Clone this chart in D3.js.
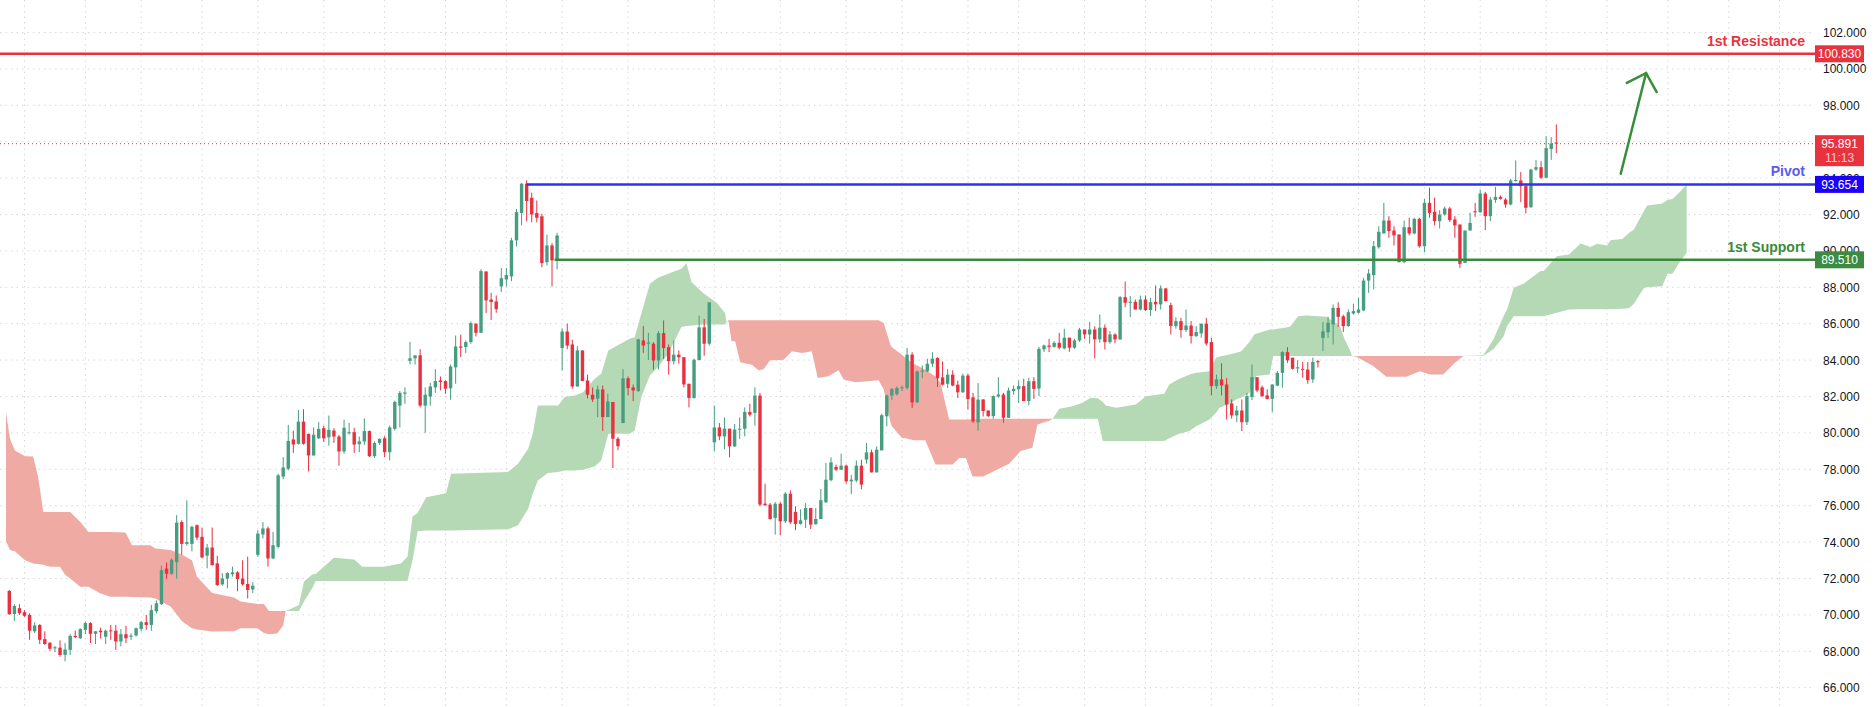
<!DOCTYPE html>
<html><head><meta charset="utf-8">
<script src="https://cdn.jsdelivr.net/npm/d3@7/dist/d3.min.js"></script>
<style>body{margin:0;background:#fff}svg{display:block}</style>
</head><body><svg id="c" width="1874" height="707"></svg>
<script>
// [open, high, low, close]
const ohlc = [
[71.32,71.37,70.0,70.04],[70.05,70.59,69.67,70.49],[70.37,70.59,70.0,70.1],[70.15,70.26,69.9,69.95],[70.0,70.09,68.63,69.13],
[69.1,69.6,69.0,69.42],[69.45,69.49,68.4,68.63],[68.67,69.1,68.36,68.4],[68.47,68.5,68.03,68.14],[68.18,68.3,67.95,68.22],
[68.2,68.6,67.7,67.8],[67.8,68.45,67.45,68.1],[68.08,68.94,67.8,68.85],[68.85,69.14,68.72,68.78],[68.72,69.27,68.68,69.22],
[69.18,69.64,68.94,69.55],[69.55,69.6,68.45,68.96],[68.96,69.1,68.4,69.1],[69.13,69.3,68.7,69.05],[68.8,69.19,68.4,69.13],
[69.15,69.45,68.63,69.1],[69.13,69.45,68.08,68.54],[68.54,69.22,68.27,68.94],[68.94,69.4,68.45,68.72],[68.8,68.99,68.63,68.86],
[68.87,69.31,68.81,69.27],[69.23,69.67,69.09,69.6],[69.6,70.0,69.18,69.45],[69.45,70.55,69.13,70.26],[70.2,70.8,70.09,70.64],
[70.59,72.7,70.55,72.46],[72.55,72.88,71.97,72.26],[72.26,73.1,72.2,73.03],[72.9,75.48,72.0,75.07],[75.1,75.2,73.3,73.9],
[73.9,76.3,73.8,74.0],[73.9,74.9,73.5,74.84],[74.93,74.97,74.1,74.25],[74.29,74.8,73.1,73.16],[73.25,73.9,72.56,73.7],
[73.7,74.8,72.7,72.74],[72.83,73.25,71.6,71.64],[71.68,72.3,71.6,72.0],[72.0,72.35,71.46,72.3],[72.23,72.65,72.1,72.34],
[72.34,72.4,71.3,71.97],[72.0,73.0,71.6,71.68],[71.7,73.2,70.9,71.37],[71.4,71.8,71.2,71.6],[73.3,74.65,73.2,74.47],
[74.42,75.1,74.2,74.75],[74.75,74.85,72.65,73.1],[73.1,74.56,73.06,73.83],[73.74,77.76,73.65,77.67],[77.6,78.67,77.45,78.1],
[78.03,80.44,77.94,79.56],[79.64,80.13,78.9,79.36],[79.4,81.26,79.36,80.62],[80.62,81.3,79.35,79.4],[79.95,79.95,77.88,78.76],
[78.76,80.3,78.76,79.9],[79.7,80.59,79.67,80.22],[80.26,80.4,79.5,79.7],[79.76,80.95,79.3,80.17],[80.13,80.26,79.45,79.8],
[79.8,79.89,78.2,78.98],[78.98,80.73,78.85,80.28],[79.98,80.55,79.9,80.04],[80.04,80.28,78.9,79.36],[79.38,79.8,78.94,79.53],
[79.53,80.8,79.34,80.1],[80.1,80.13,78.67,78.72],[78.72,79.53,78.62,79.45],[79.45,79.7,79.34,79.67],[79.7,79.82,78.67,78.94],
[78.94,80.4,78.49,80.3],[80.22,81.77,80.13,81.7],[81.5,82.3,80.3,82.2],[82.15,82.5,81.6,82.22],[83.96,85.0,83.76,84.1],
[84.1,84.26,83.76,84.26],[84.26,84.6,81.4,81.5],[81.5,82.5,80.0,82.1],[82.0,82.75,81.5,82.55],[82.5,83.5,82.2,82.85],
[82.88,83.1,82.34,82.8],[82.85,82.88,82.15,82.43],[82.45,83.75,81.82,83.65],[83.6,85.35,82.7,84.75],[84.75,85.4,84.17,84.68],
[84.72,85.08,84.38,84.99],[84.99,86.12,84.9,86.03],[86.0,86.03,85.3,85.5],[85.5,89.0,85.5,88.89],[88.87,88.87,86.58,87.28],
[87.33,87.7,86.2,87.19],[87.22,87.55,86.6,86.8],[88.05,89.06,87.74,88.5],[88.43,89.06,88.05,88.67],[88.6,90.72,88.34,90.58],
[90.58,92.3,90.25,92.13],[92.08,93.73,91.4,93.69],[93.69,93.87,91.62,92.74],[92.92,93.2,91.57,92.0],[92.08,92.77,91.57,91.82],
[91.9,92.04,89.1,89.33],[89.38,90.9,89.2,90.3],[90.3,90.43,88.05,89.48],[89.48,91.0,88.98,90.85],[84.66,85.75,83.43,85.57],
[85.57,86.0,84.6,84.8],[84.86,85.12,82.43,82.55],[82.55,84.77,82.55,84.53],[84.53,84.53,82.85,82.85],[82.88,83.2,81.9,82.1],
[82.1,82.5,81.7,81.84],[81.88,82.6,80.87,82.39],[82.39,82.6,80.1,80.87],[80.87,82.15,80.87,81.73],[81.7,81.7,78.07,79.68],
[79.68,79.77,79.05,79.27],[80.54,83.5,80.54,83.0],[83.0,83.1,82.06,82.46],[82.5,82.66,81.75,82.33],[82.3,85.17,82.24,85.14],
[85.08,85.87,84.4,84.8],[84.9,85.5,84.0,84.97],[84.9,84.99,83.47,83.98],[83.98,85.6,83.49,85.48],[85.48,86.18,84.07,84.66],
[84.71,84.86,83.2,83.94],[83.94,85.08,83.76,84.3],[84.3,84.53,83.8,84.16],[84.16,84.16,82.5,82.66],[82.7,82.7,81.4,81.92],
[81.92,84.08,81.88,84.02],[84.0,86.44,84.0,85.8],[85.8,86.26,84.24,84.9],[84.9,87.17,84.8,87.17],[79.48,81.5,79.0,80.3],
[80.3,80.54,79.6,79.81],[79.81,80.85,79.1,80.23],[80.23,80.23,78.66,79.26],[79.26,80.49,79.22,80.18],[80.18,80.85,79.67,80.23],
[80.23,81.4,79.81,81.15],[81.15,81.6,80.9,81.0],[81.1,82.5,80.4,82.05],[82.05,82.2,75.97,76.06],[76.11,77.21,76.02,76.02],
[76.06,76.15,75.23,75.27],[75.33,76.2,74.41,76.11],[76.11,76.2,74.37,75.14],[75.14,76.75,75.05,76.66],[76.66,76.84,75.0,75.09],
[75.66,75.97,74.65,75.0],[75.0,75.8,74.96,75.2],[75.23,76.14,74.77,75.87],[75.87,75.87,74.72,74.96],[74.98,75.87,74.96,75.27],
[75.27,76.92,75.27,76.3],[76.19,78.35,76.15,77.43],[77.4,78.66,77.34,78.38],[78.13,78.26,77.9,77.98],[77.98,78.86,77.98,78.2],
[78.2,78.26,77.21,77.34],[77.34,77.7,76.64,77.43],[77.38,78.49,77.28,78.2],[78.2,78.53,76.9,77.16],[78.53,79.44,78.31,78.93],
[78.93,79.08,77.83,77.83],[77.83,79.26,77.83,79.08],[79.04,81.06,79.04,80.97],[80.91,82.1,80.36,82.05],[82.05,82.47,81.8,82.41],
[82.13,82.56,82.05,82.47],[82.47,82.6,82.3,82.5],[82.47,84.67,82.38,84.3],[84.3,84.43,81.37,81.68],[81.68,83.42,81.64,83.38],
[83.38,83.71,83.0,83.42],[83.38,84.08,83.33,83.8],[83.8,84.43,83.62,84.08],[84.12,84.15,82.52,83.0],[83.05,83.93,82.6,82.65],
[82.7,83.5,82.47,83.2],[83.2,83.44,82.56,82.6],[82.65,82.87,81.92,82.23],[82.23,83.26,82.2,83.15],[83.15,83.26,81.28,81.86],
[81.95,82.2,80.54,80.64],[80.58,82.74,80.12,81.83],[81.84,81.84,80.9,81.2],[81.23,81.23,80.87,80.92],[80.92,82.06,80.78,82.02],
[82.0,83.06,81.93,82.11],[82.11,82.2,80.56,80.83],[80.83,82.48,80.83,82.33],[82.3,82.6,82.1,82.42],[82.4,82.88,81.65,82.57],
[82.57,82.97,81.75,81.75],[81.75,83.03,81.51,82.84],[82.84,83.06,81.87,82.42],[82.44,84.73,82.02,84.62],[84.59,84.86,84.44,84.8],
[84.8,85.17,84.44,84.73],[84.73,85.04,84.68,84.95],[84.95,85.5,84.59,84.68],[84.64,85.72,84.59,85.23],[85.23,85.23,84.46,84.68],
[84.68,85.17,84.62,85.08],[85.08,85.77,85.0,85.68],[85.68,85.68,85.17,85.41],[85.41,86.09,84.91,85.68],[85.68,85.86,84.09,85.14],
[85.14,86.51,84.95,85.78],[85.78,85.96,84.58,84.99],[84.99,85.6,84.9,85.41],[85.41,85.47,84.92,85.14],[85.14,87.52,85.1,87.46],
[87.46,88.32,86.91,87.15],[87.16,87.52,86.36,87.2],[87.2,87.33,86.78,86.78],[86.78,87.55,86.73,87.33],[87.33,87.55,86.69,86.75],
[86.75,87.42,86.42,87.18],[87.2,88.1,86.69,87.06],[87.06,88.1,86.78,87.94],[87.94,87.94,87.24,87.24],[87.02,87.15,85.41,85.87],
[85.87,86.36,85.72,86.14],[86.14,86.32,85.23,85.65],[85.65,86.78,85.54,85.9],[85.9,86.14,84.91,85.32],[85.32,85.87,85.26,85.54],
[85.47,86.0,85.23,86.0],[86.0,86.32,84.8,84.91],[84.99,85.23,82.06,82.57],[82.57,83.2,82.42,82.94],[82.94,83.82,82.06,82.61],
[82.66,83.02,80.74,81.56],[81.62,81.84,80.78,80.96],[80.96,81.49,80.59,81.23],[81.23,81.84,80.1,80.59],[80.59,82.2,80.43,82.02],
[81.97,83.76,81.8,83.06],[83.06,83.06,82.24,82.33],[82.5,82.6,81.98,82.02],[82.06,82.4,81.84,81.87],[81.87,82.66,81.14,82.66],
[82.6,83.4,82.56,83.3],[83.3,84.49,82.48,84.44],[84.44,84.71,83.85,83.99],[84.13,84.13,83.48,83.52],[83.55,83.99,83.3,83.6],
[83.52,83.9,83.03,83.5],[83.48,83.9,82.7,82.9],[82.94,84.13,82.75,83.9],[83.94,84.0,83.6,83.88],[85.22,86.09,84.49,85.58],
[85.53,86.38,85.22,86.05],[85.96,87.06,84.86,86.87],[86.87,87.18,85.83,86.38],[86.41,86.5,85.54,85.87],[85.87,86.78,85.83,86.63],
[86.56,87.1,86.5,86.69],[86.6,87.42,86.56,86.78],[86.73,88.52,86.69,88.37],[88.37,89.0,87.7,88.76],[88.67,90.54,87.88,90.26],
[90.2,91.36,90.12,91.05],[90.96,92.64,90.96,91.67],[91.67,91.91,90.72,91.09],[91.12,91.36,90.3,90.85],[90.9,90.9,89.38,89.38],
[89.38,91.67,89.33,91.3],[91.3,91.82,90.85,90.96],[90.96,91.82,90.9,91.76],[91.76,91.82,90.17,90.26],[90.26,92.86,89.93,92.64],
[92.64,93.47,91.82,92.09],[92.15,92.92,91.4,91.63],[91.63,92.24,91.23,92.0],[92.0,92.44,91.94,92.33],[92.33,92.42,91.58,91.69],
[91.73,91.91,90.72,91.4],[91.45,91.45,89.07,89.29],[89.34,91.12,89.34,91.12],[91.12,92.1,91.12,91.54],[92.18,92.64,91.87,92.13],
[92.13,93.37,92.09,93.15],[93.15,93.24,91.14,91.91],[91.91,92.97,91.64,92.82],[92.8,93.52,92.64,92.97],[92.97,93.04,92.82,92.86],
[92.82,92.91,92.37,92.55],[92.55,93.96,92.5,93.87],[93.87,94.97,93.8,93.9],[93.87,94.33,92.68,93.56],[93.56,93.7,92.06,92.37],
[92.4,94.51,92.37,94.47],[94.47,95.0,94.4,94.6],[94.6,94.93,93.96,94.02],[94.02,96.3,94.0,95.65],[95.6,96.25,95.0,95.9],
[95.95,96.95,95.37,95.891]
];

// Ichimoku cloud samples: bar index, span A, span B
const cloudIdx = [-0.65,0.14,1.1,3.1,4.7,5.7,6.7,8,10,11,12,14,15.6,17.9,19.9,22.9,24.2,27.8,28.8,31.8,34.1,36,37,40,44.3,45.6,48.9,50.2,51.2,52.8,54,54.5,
55.1,57.1,58.1,59.8,60.4,62.4,64,68,69.6,73.9,77.2,78.5,79.5,80.5,82.2,86.1,87.1,98.3,100.3,102.3,103.2,104.2,106.2,108.2,109.5,111.5,113.1,115.4,116.7,118.1,122.3,123.3,124.6,126.3,127.9,129.9,132.5,133.5,134.5,136.8,139.5,141.1,141.4,
141.8,142.4,143.1,144.1,146.4,147.7,148.7,150,152.6,154.3,156.3,158.2,159.4,161.5,163.5,164.5,166.8,171.4,172.4,173.7,174,176,176.7,178.3,180.6,182.6,183.6,185.3,186,187.3,188.6,189.9,192,197.1,199.4,201.7,202.7,205.3,205.7,
207,209.6,211.6,213.2,214.6,215.6,216.2,218.2,222.1,224.1,227.7,228.7,230.4,232.7,234,236.6,237.9,238.6,240.6,241.9,242.9,244.5,245.5,245.8,248.5,249.2,252.5,254.1,255.7,259.7,262.3,263.3,264.4,264.7,
265.6,268.9,271.5,275.4,278.1,280,282.7,285,286.7,
290.6,292.6,294.6,295.3,296.6,298.6,301.9,302.5,305.1,307.5,309.8,311.7,313.1,315,315.7,318,319.3,320.3,322.3,322.9,325.9,326.9,327.9,329.2,330.7];
const spanA = [74.05,73.56,73.5,73.0,72.83,72.8,72.75,72.65,72.65,72.2,72.0,71.55,71.55,71.19,71.0,71.0,70.98,70.95,70.9,70.46,69.64,69.27,69.2,69.09,69.1,69.27,69.27,69.0,68.94,68.98,69.42,70.22,
70.28,70.55,71.83,72.23,72.25,72.74,73.14,73.05,72.65,72.65,72.83,73.2,75.4,75.6,76.47,76.69,77.75,77.85,78.3,79.13,79.95,81.5,81.5,81.5,81.97,82.06,82.24,82.97,83.25,84.53,85.17,85.26,86.55,88.19,88.52,88.74,89.02,89.33,88.29,87.69,87.14,86.59,86.1,
86.13,85.03,85.03,83.88,83.75,83.44,83.5,83.99,84.0,84.48,84.39,84.48,83.02,83.11,83.44,82.93,82.78,82.89,82.38,80.6,80.36,79.72,79.7,79.59,79.59,78.26,78.26,78.26,78.26,78.62,78.62,77.61,77.6,78.3,79.0,79.18,80.46,80.7,80.78,
81.33,81.47,81.66,81.93,81.9,81.7,81.51,81.38,81.56,82.02,82.15,82.66,82.94,83.21,83.3,83.39,84.13,84.2,84.31,84.4,84.49,85.0,85.41,85.45,85.68,85.68,85.83,86.41,86.45,86.38,85.87,85.13,84.5,84.22,
84.18,83.67,83.08,83.08,83.39,83.21,83.21,83.85,84.22,
84.27,85.13,86.41,86.8,87.97,88.21,88.89,88.89,89.71,89.8,90.41,90.22,90.39,90.3,90.59,90.66,90.99,91.18,92.2,92.5,92.6,92.79,92.85,93.19,93.65];
const spanB = [81.13,79.67,79.03,78.72,78.7,77.57,75.66,75.66,75.66,75.66,75.66,75.1,74.56,74.56,74.56,74.53,73.83,73.83,73.65,73.56,73.3,73.0,72.1,71.2,70.95,70.73,70.6,70.6,70.22,70.22,70.22,70.22,
70.22,70.22,70.73,71.5,71.86,71.86,71.86,71.86,71.86,71.86,71.86,71.86,73.0,74.6,74.64,74.64,74.64,74.7,74.92,75.83,76.66,77.39,77.79,77.85,77.94,77.94,77.98,78.16,78.49,79.95,79.95,80.13,81.97,83.16,83.62,84.35,85.82,85.87,85.9,85.95,85.95,85.95,86.1,
86.19,86.19,86.19,86.19,86.19,86.19,86.19,86.19,86.19,86.19,86.19,86.19,86.19,86.19,86.19,86.19,86.19,86.19,86.04,84.85,84.7,84.3,84.12,83.8,83.47,83.1,82.74,80.73,80.73,80.73,80.73,80.73,80.78,80.78,80.78,80.78,80.78,80.78,80.78,
80.78,80.78,80.78,80.78,80.78,79.55,79.55,79.55,79.55,79.55,79.55,79.7,79.92,80.1,80.37,80.74,81.1,81.38,81.6,81.84,81.95,82.2,82.9,83.12,83.21,84.22,84.22,84.22,84.22,84.22,84.22,84.22,84.22,84.22,
84.22,84.22,84.22,84.22,84.22,84.22,84.22,84.22,84.22,
84.22,84.6,85.3,85.87,86.41,86.41,86.41,86.41,86.6,86.78,86.8,86.8,86.8,86.8,86.8,86.82,86.85,87.1,87.97,88.0,88.06,88.74,88.74,89.34,89.89];

const priceTicks = d3.range(66, 102.001, 2);
const timeGridIdx = [3,15,26,38,49,62,74,86,98,109,122,139,152,165,176,189,199,212,224,237,249,266,279,290,303,315,327,339,349];
const levels = [
  {name:"1st Resistance", value:100.83, from:-2, color:"#e8333f", text:"#e8333f", box:"#e8333f"},
  {name:"Pivot", value:93.654, from:102, color:"#2f2ff5", text:"#5b5bf0", box:"#1a00ff"},
  {name:"1st Support", value:89.51, from:107.5, color:"#3a8a3c", text:"#3a8a3c", box:"#3d8b40"}
];
const lastPrice = 95.891, countdown = "11:13";
const arrowPts = [[317.7,94.24],[322.7,99.77]];
const arrowHeads = [[318.9,99.23],[324.8,98.73]];

const svg = d3.select("#c");
const plotR = 1815;
const x = d3.scaleLinear().domain([0, ohlc.length-1]).range([9.3, 1556.3]);
const y = d3.scaleLinear().domain([66, 102]).range([687.7, 32.5]);
const FONT = "'Liberation Sans', Arial, sans-serif";

// grid
const g = svg.append("g");
g.selectAll(".hg").data(priceTicks).join("line")
  .attr("x1",0).attr("x2",plotR).attr("y1",d=>y(d)).attr("y2",d=>y(d))
  .attr("stroke","#d6d8dc").attr("stroke-dasharray","1.5,4");
g.selectAll(".vg").data(timeGridIdx).join("line")
  .attr("x1",d=>x(d)).attr("x2",d=>x(d)).attr("y1",0).attr("y2",707)
  .attr("stroke","#d6d8dc").attr("stroke-dasharray","1.5,4");

// cloud
const cd = cloudIdx.map((t,i)=>({t, a:spanA[i], b:spanB[i]}));
svg.append("path").datum(cd).attr("fill","#b5d9b5")
  .attr("d", d3.area().x(d=>x(d.t)).y0(d=>y(d.b)).y1(d=>y(Math.max(d.a,d.b))));
svg.append("path").datum(cd).attr("fill","#eeaaa3")
  .attr("d", d3.area().x(d=>x(d.t)).y0(d=>y(d.a)).y1(d=>y(Math.max(d.a,d.b))));

// price line
svg.append("line").attr("x1",0).attr("x2",plotR).attr("y1",y(lastPrice)).attr("y2",y(lastPrice))
  .attr("stroke","#e8333f").attr("stroke-dasharray","1,3");

// candles
const up="#469d7f", dn="#e8303f";
const cg = svg.append("g");
cg.selectAll(".w").data(ohlc).join("line")
  .attr("x1",(d,i)=>x(i)).attr("x2",(d,i)=>x(i)).attr("y1",d=>y(d[1])).attr("y2",d=>y(d[2]))
  .attr("stroke",d=>d[3]>=d[0]?up:dn).attr("stroke-width",1);
cg.selectAll(".b").data(ohlc).join("rect")
  .attr("x",(d,i)=>x(i)-1.7).attr("width",3.4)
  .attr("y",d=>y(Math.max(d[0],d[3])))
  .attr("height",d=>Math.max(1,Math.abs(y(d[0])-y(d[3]))))
  .attr("fill",d=>d[3]>=d[0]?up:dn);

// levels
levels.forEach(l=>{
  svg.append("line").attr("x1",Math.max(0,x(l.from))).attr("x2",plotR).attr("y1",y(l.value)).attr("y2",y(l.value))
    .attr("stroke",l.color).attr("stroke-width",2.5);
  svg.append("text").attr("x",1805).attr("y",y(l.value)-8).attr("text-anchor","end")
    .attr("fill",l.text).attr("font-family",FONT).attr("font-weight","bold").attr("font-size",14).text(l.name);
});

// arrow
const ag = svg.append("g").attr("stroke","#3a8e3a").attr("stroke-width",2.5).attr("stroke-linecap","round").attr("fill","none");
ag.append("line").attr("x1",x(arrowPts[0][0])).attr("y1",y(arrowPts[0][1])).attr("x2",x(arrowPts[1][0])).attr("y2",y(arrowPts[1][1]));
ag.append("path").attr("d", d3.line()([[x(arrowHeads[0][0]),y(arrowHeads[0][1])],[x(arrowPts[1][0]),y(arrowPts[1][1])],[x(arrowHeads[1][0]),y(arrowHeads[1][1])]]));

// axis labels
svg.selectAll(".tl").data(priceTicks).join("text")
  .attr("x",1823).attr("y",d=>y(d)+4.5).attr("fill","#131722").attr("font-family",FONT).attr("font-size",12)
  .text(d=>d.toFixed(3));

// boxes
levels.forEach(l=>{
  svg.append("rect").attr("x",1815).attr("y",y(l.value)-8.5).attr("width",49).attr("height",17).attr("fill",l.box);
  svg.append("text").attr("x",1839.5).attr("y",y(l.value)+4.5).attr("text-anchor","middle").attr("fill","#fff")
    .attr("font-family",FONT).attr("font-size",12).text(l.value.toFixed(3));
});
svg.append("rect").attr("x",1815).attr("y",y(lastPrice)-8.5).attr("width",49).attr("height",31).attr("fill","#e8333f");
svg.append("text").attr("x",1839.5).attr("y",y(lastPrice)+4.5).attr("text-anchor","middle").attr("fill","#fff")
  .attr("font-family",FONT).attr("font-size",12).text(lastPrice.toFixed(3));
svg.append("text").attr("x",1839.5).attr("y",y(lastPrice)+18.5).attr("text-anchor","middle").attr("fill","#f8c8cc")
  .attr("font-family",FONT).attr("font-size",12).text(countdown);
</script></body></html>
